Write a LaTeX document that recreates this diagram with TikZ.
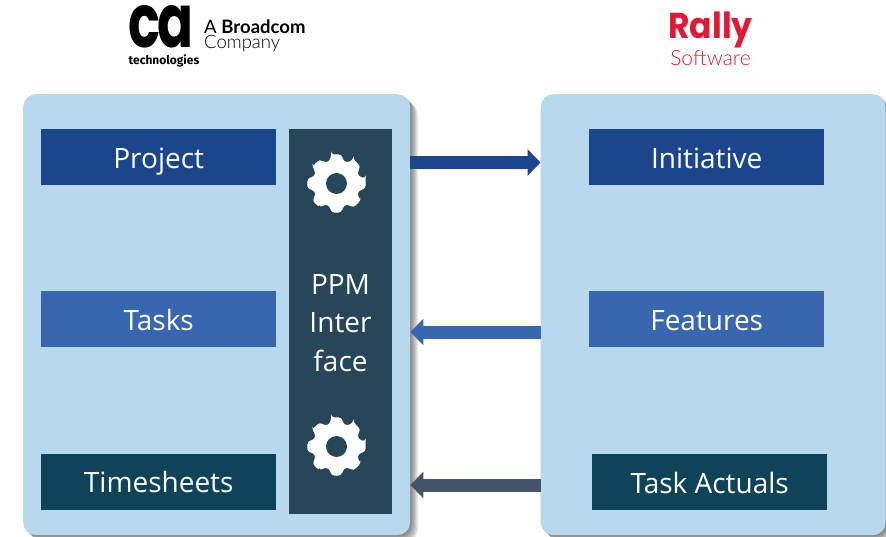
\documentclass[tikz,border=0pt]{standalone}
\usepackage{fontspec}
\setmainfont{Open Sans}
\newfontfamily\popf{Poppins}
\newfontfamily\latof{Lato}
\newfontfamily\firaf{Fira Sans}
\newfontfamily\latolight{Lato Light}
\usetikzlibrary{arrows.meta}
\definecolor{panelblue}{HTML}{B8D8EE}
\definecolor{navy}{HTML}{1C468C}
\definecolor{midblue}{HTML}{3867B0}
\definecolor{deepteal}{HTML}{0F4359}
\definecolor{slatebar}{HTML}{274659}
\definecolor{slatearrow}{HTML}{44546A}
\definecolor{rallyred}{HTML}{E31837}
\tikzset{
  panel/.style={fill=panelblue,rounded corners=13pt,minimum width=#1,minimum height=441pt,inner sep=0pt,anchor=north west},
  box/.style={fill=#1,text=white,minimum width=235pt,minimum height=56pt,inner sep=0pt,text height=22pt,text depth=0pt,font=\fontsize{28}{30}\selectfont,anchor=north west},
  flow/.style={line width=13pt,-{Triangle[length=13pt,width=26pt]}},
  gear/.pic={
    \fill[white,rounded corners=3pt]
      (-10:29.5) foreach \a in {0,45,...,315}{
        -- (\a-10:29.5) -- (\a+10:29.5) -- (\a+17:23.5) -- (\a+28:23.5) -- (\a+35:29.5)
      } -- cycle;
    \fill[slatebar] (0,0) circle (10.5pt);
  }
}
\begin{document}
\begin{tikzpicture}[x=1pt,y=-1pt]
\useasboundingbox (0,0) rectangle (886,537);
% soft panel shadows
\foreach \o in {8,7,6,5,4,3,2,1}{
  \fill[black,opacity=0.075,rounded corners=13pt] (23+\o,94+\o) rectangle (410+\o,535+\o);
  \fill[black,opacity=0.075,rounded corners=13pt] (540.5+\o,94+\o) rectangle (885.5+\o,535+\o);
}
\node[panel=387pt] (left) at (23,94) {};
\node[panel=345pt] (right) at (540.5,94) {};
% boxes
\node[box=navy] (project) at (41,129) {Project};
\node[box=midblue] (tasks) at (41,291) {Tasks};
\node[box=deepteal] (timesheets) at (41,453.5) {Timesheets};
\node[box=navy] (initiative) at (589,129) {Initiative};
\node[box=midblue] (features) at (589,291) {Features};
\node[box=deepteal] (actuals) at (592,454) {Task Actuals};
% interface column
\node[fill=slatebar,minimum width=103pt,minimum height=385pt,inner sep=0pt,anchor=north west] (ppm) at (289,129) {};
\node[text=white,align=center,font=\fontsize{28}{38.5}\selectfont] (ppmlabel) at (340.5,323) {PPM\\Inter\\face};
\pic at (336.5,183.5) {gear};
\pic at (336.5,446.5) {gear};
% connectors
\coordinate (a1s) at (left.east |- 0,162.5);
\coordinate (a1e) at (right.west |- 0,162.5);
\coordinate (a2s) at (right.west |- 0,332);
\coordinate (a2e) at (left.east |- 0,332);
\coordinate (a3s) at (right.west |- 0,485);
\coordinate (a3e) at (left.east |- 0,485);
\draw[flow,navy] (a1s) -- (a1e);
\draw[flow,midblue] (a2s) -- (a2e);
\draw[flow,slatearrow] (a3s) -- (a3e);
% logos
\node[font=\popf\bfseries\fontsize{53}{53}\selectfont,text=black,inner sep=0pt] (calogo) at (161,27) {\scalebox{1}[1.4]{\addfontfeature{LetterSpace=-7}ca}};
\node[font=\firaf\bfseries\fontsize{12}{14}\selectfont,text=black,inner sep=0pt] (catech) at (164,60.5) {technologies};
\node[font=\latof\fontsize{18.5}{18}\selectfont,text=black,inner sep=0pt,anchor=west] (bc1) at (204,26.5) {A \textbf{Broadcom}};
\node[font=\latolight\fontsize{18.5}{18}\selectfont,text=black,inner sep=0pt,anchor=west] (bc2) at (204,43.5) {Company};
\node[font=\popf\bfseries\fontsize{36}{36}\selectfont,text=rallyred,inner sep=0pt] (rally) at (710.5,30) {\scalebox{0.92}[1]{Rally}};
\node[font=\latolight\fontsize{21}{20}\selectfont,text=rallyred,inner sep=0pt] (soft) at (710.5,58.5) {Software};
\end{tikzpicture}
\end{document}
